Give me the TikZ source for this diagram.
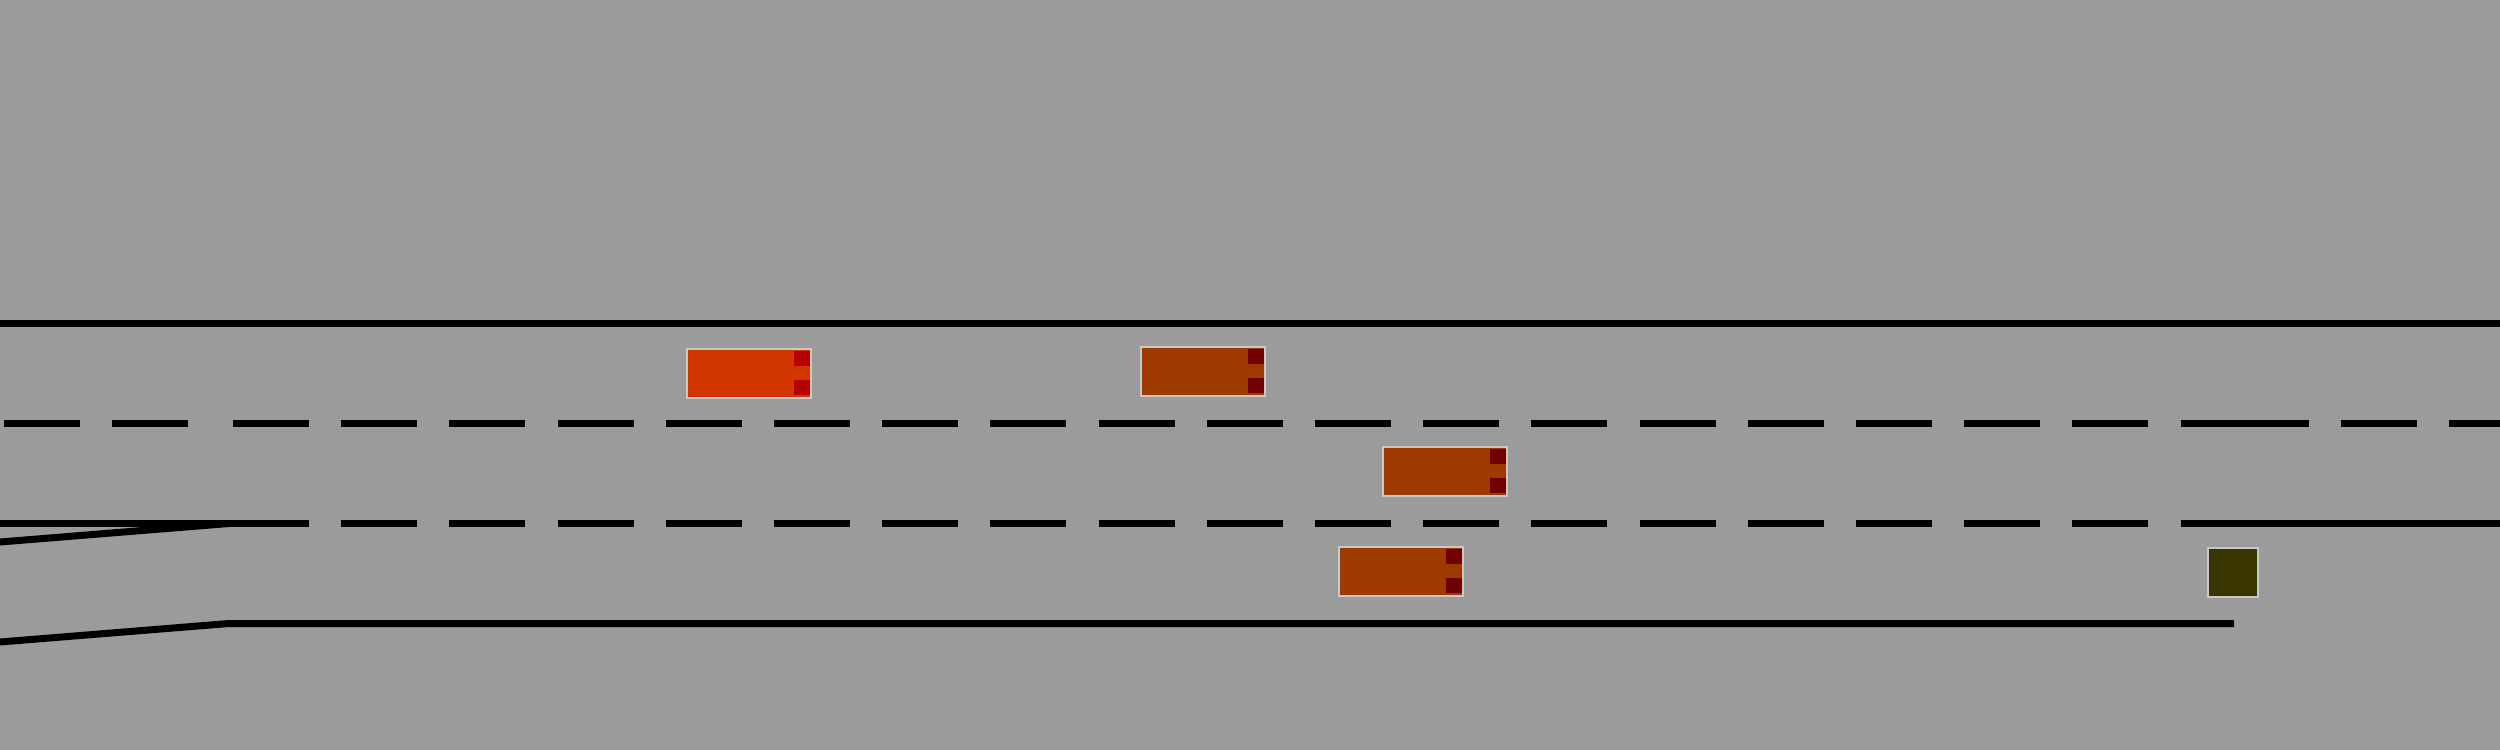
\documentclass[tikz,border=0pt]{standalone}
\definecolor{bg}{RGB}{155,155,155}
\definecolor{carA}{RGB}{208,56,0}
\definecolor{carB}{RGB}{158,58,0}
\definecolor{lightA}{RGB}{184,0,0}
\definecolor{lightB}{RGB}{112,0,0}
\definecolor{obst}{RGB}{58,54,0}
\definecolor{rim}{RGB}{200,200,200}
\newcommand\drawcar[4]{%
  \fill[#3] (#1,#2) rectangle ++(124,49);
  \fill[#4] (#1+107,#2+2) rectangle ++(17,15);
  \fill[#4] (#1+107,#2+31) rectangle ++(17,15);
  \draw[rimline] (#1,#2) rectangle ++(124,49);
}
\begin{document}
\begin{tikzpicture}[x=0.1mm,y=-0.1mm,
  roadline/.style={line width=0.7mm,black},
  rimline/.style={draw=rim,line width=0.15mm}]
\fill[bg] (0,0) rectangle (2500,750);
\useasboundingbox (0,0) rectangle (2500,750);
% outer edge
\draw[roadline] (0,323.5) -- (2500,323.5);
% segment A (merge)
\foreach \x in {4,112} \draw[roadline] (\x,423.5) -- ++(76,0);
\draw[roadline] (0,523.5) -- (233,523.5);
\draw[roadline] (0,542) -- (229,523.5);
\draw[roadline] (0,642) -- (229,623.5) -- (2234,623.5);
% segment B dashes
\foreach \i in {0,...,18} {
  \pgfmathsetmacro\xx{233+\i*108.2}
  \draw[roadline] (\xx,423.5) -- ++(76,0);
  \draw[roadline] (\xx,523.5) -- ++(76,0);
}
% segment C
\foreach \x in {2233,2341,2449} \draw[roadline] (\x,423.5) -- ++(76,0);
\draw[roadline] (2233,523.5) -- (2500,523.5);
% vehicles
\drawcar{687}{349}{carA}{lightA}
\drawcar{1141}{347}{carB}{lightB}
\drawcar{1383}{447}{carB}{lightB}
\drawcar{1339}{547}{carB}{lightB}
% obstacle
\fill[obst] (2208,548) rectangle ++(50,49);
\draw[rimline] (2208,548) rectangle ++(50,49);
\end{tikzpicture}
\end{document}
